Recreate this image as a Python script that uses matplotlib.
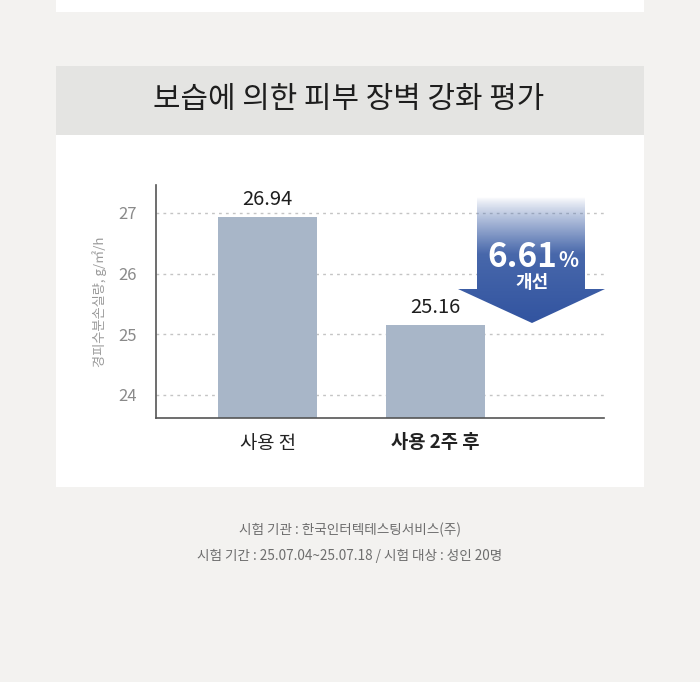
import numpy as np
import matplotlib.pyplot as plt
from matplotlib.patches import Rectangle, Polygon

plt.rcParams['font.family'] = ['Noto Sans CJK KR', 'DejaVu Sans']

categories = ['사용 전', '사용 2주 후']
values = [26.94, 25.16]
yticks = [24, 25, 26, 27]
title = '보습에 의한 피부 장벽 강화 평가'
ylabel = '경피수분손실량, g/㎡/h'
change_pct = '6.61'
change_text = '개선'
notes = ['시험 기관 : 한국인터텍테스팅서비스(주)',
         '시험 기간 : 25.07.04~25.07.18 / 시험 대상 : 성인 20명']

W, H = 700, 682
fig = plt.figure(figsize=(W / 100, H / 100), dpi=100)
fig.patch.set_facecolor('#f3f2f0')


def box(x, y, w, h, color):
    # pixel box (top-left origin) -> figure coords
    fig.add_artist(Rectangle((x / W, 1 - (y + h) / H), w / W, h / H,
                             transform=fig.transFigure, color=color, lw=0, zorder=0))


box(56, 0, 588, 12, 'white')
box(56, 66, 588, 69, '#e4e4e2')
box(56, 135, 588, 352, 'white')

fig.text(349 / W, 1 - 100 / H, title, ha='center', va='center',
         fontsize=21.5, fontweight='medium', color='#1e1e1e')

# chart
ax = fig.add_axes([156 / W, 1 - 418 / H, 448 / W, (418 - 185) / H])
ax.set_facecolor('none')
x = np.arange(len(categories))
ax.bar(x, values, width=0.59, color='#a8b6c8', zorder=2)
ax.set_xlim(-0.664, 2.003)
ax.set_ylim(23.62, 27.46)
ax.set_yticks(yticks)
ax.yaxis.grid(True, linestyle=(0, (2, 3)), color='#c4c4c4', lw=1, zorder=0)
ax.tick_params(axis='y', length=0, labelsize=12, labelcolor='#8a8a8a', pad=14)
ax.tick_params(axis='x', length=0, labelsize=13.5, labelcolor='#222222', pad=11)
ax.set_xticks(x)
ax.set_xticklabels(categories)
ax.get_xticklabels()[1].set_fontweight('bold')
for s in ['top', 'right']:
    ax.spines[s].set_visible(False)
for s in ['left', 'bottom']:
    ax.spines[s].set_color('#555555')
    ax.spines[s].set_linewidth(1.2)
ax.set_ylabel(ylabel, fontsize=9.5, color='#9a9a9a', labelpad=8)
for xi, v in zip(x, values):
    ax.text(xi, v + 0.1, f'{v:.2f}', ha='center', va='bottom', fontsize=14.5,
            color='#1e1e1e', fontweight='medium')

# arrow overlay in pixel coords
ov = fig.add_axes([0, 0, 1, 1])
ov.set_xlim(0, W)
ov.set_ylim(H, 0)
ov.axis('off')
arrow = Polygon([(477, 197), (585, 197), (585, 289), (605, 289), (532, 323),
                 (458, 289), (477, 289)], closed=True, facecolor='none', edgecolor='none')
ov.add_patch(arrow)
grad = np.zeros((256, 1, 4))
top = np.array([0x5a, 0x78, 0xb4]) / 255
bot = np.array([0x32, 0x54, 0xa0]) / 255
t = np.linspace(0, 1, 256)[:, None]
grad[:, 0, :3] = top + (bot - top) * t
grad[:, 0, 3] = np.clip(t[:, 0] / 0.45, 0, 1) ** 0.8
im = ov.imshow(grad, extent=(458, 605, 323, 197), aspect='auto', interpolation='bilinear')
im.set_clip_path(arrow)
ov.text(557, 267, change_pct, ha='right', va='baseline', fontsize=24,
        fontweight='bold', color='white')
ov.text(558, 267, '%', ha='left', va='baseline', fontsize=15,
        fontweight='bold', color='white')
ov.text(532, 283, change_text, ha='center', va='center', fontsize=13,
        fontweight='bold', color='white')

# notes
fig.text(350 / W, 1 - 530 / H, notes[0], ha='center', va='center', fontsize=9.8, color='#6e6e6e')
fig.text(350 / W, 1 - 556 / H, notes[1], ha='center', va='center', fontsize=9.8, color='#6e6e6e')

fig.savefig('out.png', dpi=100, facecolor=fig.get_facecolor())
